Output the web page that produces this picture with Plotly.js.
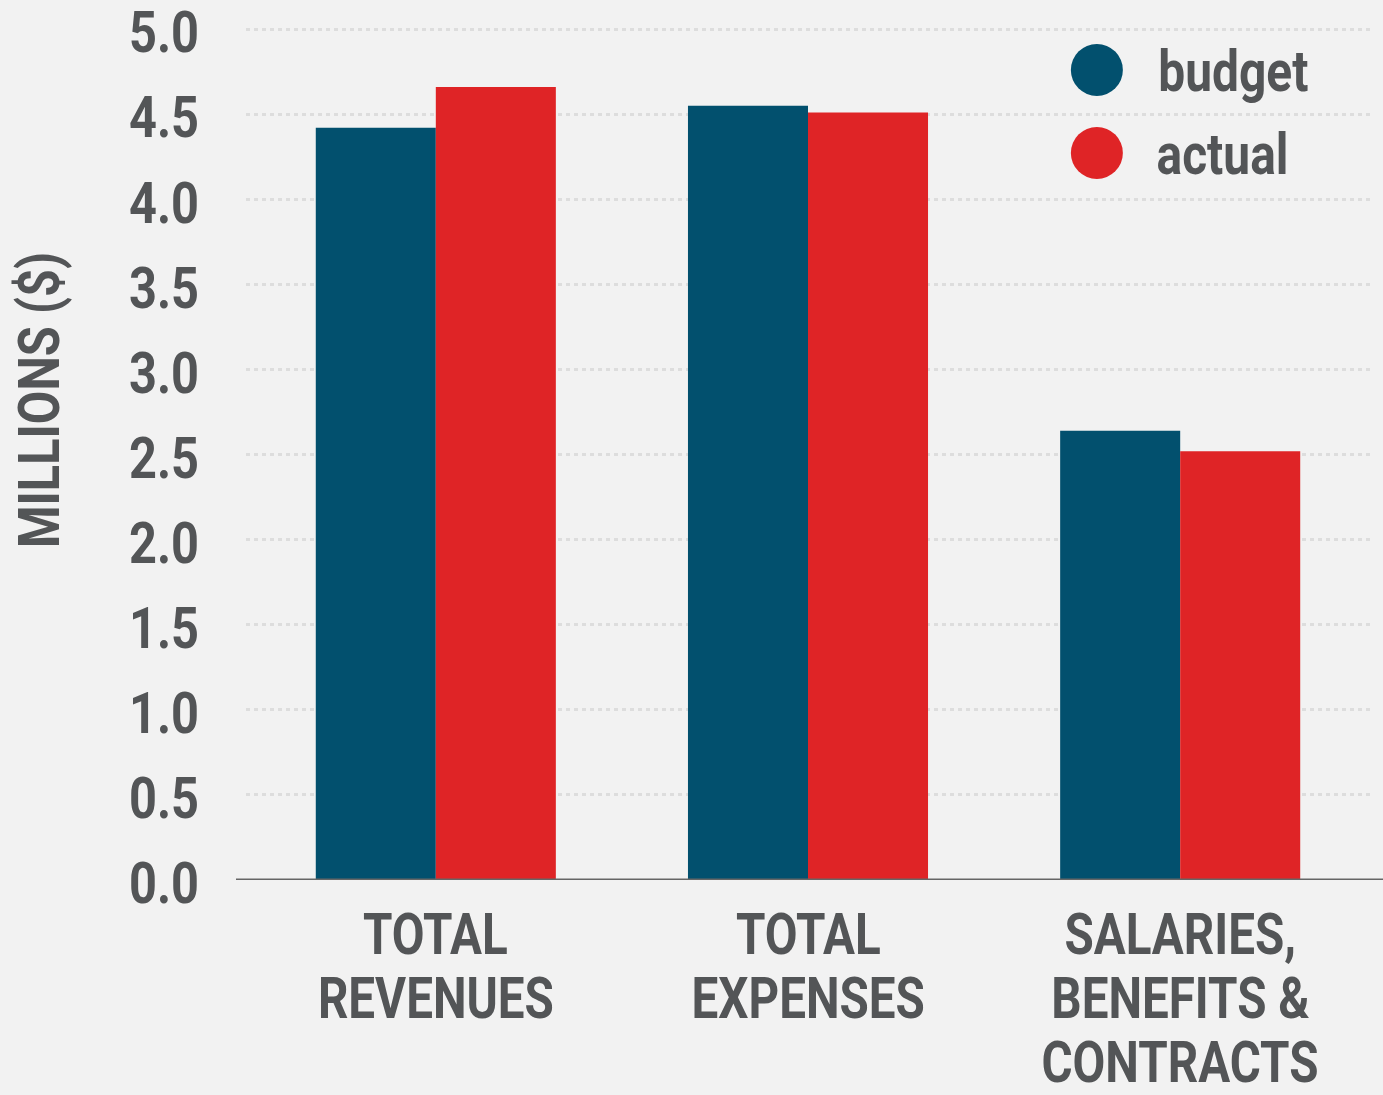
<!DOCTYPE html>
<html>
<head>
<meta charset="utf-8">
<script src="https://cdn.plot.ly/plotly-3.0.1.min.js"></script>
<style>
  html, body { margin: 0; padding: 0; background: #f2f2f2; }
  #chart { width: 1383px; height: 1095px; }
</style>
</head>
<body>
<div id="chart"></div>
<script>
// Chart data
const categories = ['TOTAL<br>REVENUES', 'TOTAL<br>EXPENSES', 'SALARIES,<br>BENEFITS &<br>CONTRACTS']
const seriesNames = ['budget', 'actual']
const seriesColors = ['#02506e', '#df2426']
const budgetValues = [4.42, 4.55, 2.64]
const actualValues = [4.66, 4.51, 2.52]
const yTickValues = [0, 0.5, 1, 1.5, 2, 2.5, 3, 3.5, 4, 4.5, 5]
const yTitle = 'MILLIONS ($)'

const textColor = '#535557'
const fontFamily = 'Roboto, "DejaVu Sans Condensed", sans-serif'
const bigFont = { family: fontFamily, size: 58, color: textColor, weight: 'bold' }
// no condensed face installed, so text gets squeezed horizontally after drawing
const squeeze = 0.84
const squeezeCat = 0.82

const xIdx = categories.map((c, i) => i)

const traces = [budgetValues, actualValues].map((vals, i) => ({
  type: 'bar',
  x: xIdx,
  y: vals,
  name: seriesNames[i],
  marker: { color: seriesColors[i], line: { width: 0 } },
  showlegend: false,
  hoverinfo: 'skip'
}))

// Category labels, one annotation per line so the line spacing can match
const annotations = []
const lineShift = [54, 118, 182]
categories.forEach((cat, i) => {
  cat.split('<br>').forEach((line, j) => {
    annotations.push({
      text: line,
      name: 'cat',
      x: i,
      xref: 'x',
      y: 0,
      yref: 'paper',
      yanchor: 'middle',
      xanchor: 'center',
      yshift: -lineShift[j],
      showarrow: false,
      font: bigFont
    })
  })
})

// Y axis title
annotations.push({
  text: yTitle,
  textangle: -90,
  x: -0.184,
  xref: 'paper',
  xanchor: 'center',
  y: 0.562,
  yref: 'paper',
  yanchor: 'middle',
  showarrow: false,
  font: bigFont
})

// Legend drawn by hand: big circles and labels
const shapes = []
const legendY = [0.9485, 0.8513]
seriesNames.forEach((name, i) => {
  shapes.push({
    type: 'circle',
    xref: 'paper',
    yref: 'paper',
    xsizemode: 'pixel',
    ysizemode: 'pixel',
    xanchor: 0.757,
    yanchor: legendY[i],
    x0: -26, x1: 26, y0: -26, y1: 26,
    fillcolor: seriesColors[i],
    line: { width: 0 }
  })
  annotations.push({
    text: name,
    x: 0.797,
    xref: 'paper',
    xanchor: 'left',
    y: legendY[i],
    yref: 'paper',
    yanchor: 'middle',
    yshift: -2,
    showarrow: false,
    font: { family: fontFamily, size: 57, color: textColor, weight: 'bold' }
  })
})

// Baseline axis line
shapes.push({
  type: 'line',
  xref: 'paper',
  yref: 'y',
  x0: -0.0089,
  x1: 1.012,
  y0: 0,
  y1: 0,
  line: { color: '#666666', width: 3 },
  layer: 'above'
})

const layout = {
  width: 1383,
  height: 1095,
  margin: { l: 246, r: 13, t: 26, b: 215 },
  paper_bgcolor: '#f2f2f2',
  plot_bgcolor: '#f2f2f2',
  barmode: 'group',
  bargap: 0.355,
  bargroupgap: 0,
  font: bigFont,
  xaxis: {
    range: [-0.51, 2.51],
    showticklabels: false,
    showgrid: false,
    zeroline: false,
    showline: false,
    ticks: '',
    fixedrange: true
  },
  yaxis: {
    range: [0, 5.018],
    tickvals: yTickValues,
    ticktext: yTickValues.map(v => v.toFixed(1)),
    tickfont: bigFont,
    ticks: '',
    ticklabelstandoff: 46,
    ticklabelshift: 3,
    ticklabeloverflow: 'allow',
    showgrid: true,
    gridcolor: '#dddddd',
    gridwidth: 3,
    griddash: '4px,4px',
    zeroline: false,
    showline: false,
    fixedrange: true
  },
  shapes: shapes,
  annotations: annotations
}

Plotly.newPlot('chart', traces, layout, { displayModeBar: false, staticPlot: true })
  .then(gd => {
    const annEls = gd.querySelectorAll('.annotation')
    gd.querySelectorAll('.ytick text').forEach(t => squeezeText(t, squeeze))
    annEls.forEach((a, i) => {
      const t = a.querySelector('.annotation-text')
      const f = layout.annotations[i].name === 'cat' ? squeezeCat : squeeze
      if (t) squeezeText(t, f)
    })
  })

function squeezeText(t, f) {
  const w = t.getComputedTextLength()
  t.setAttribute('textLength', w * f)
  t.setAttribute('lengthAdjust', 'spacingAndGlyphs')
}
</script>
</body>
</html>
